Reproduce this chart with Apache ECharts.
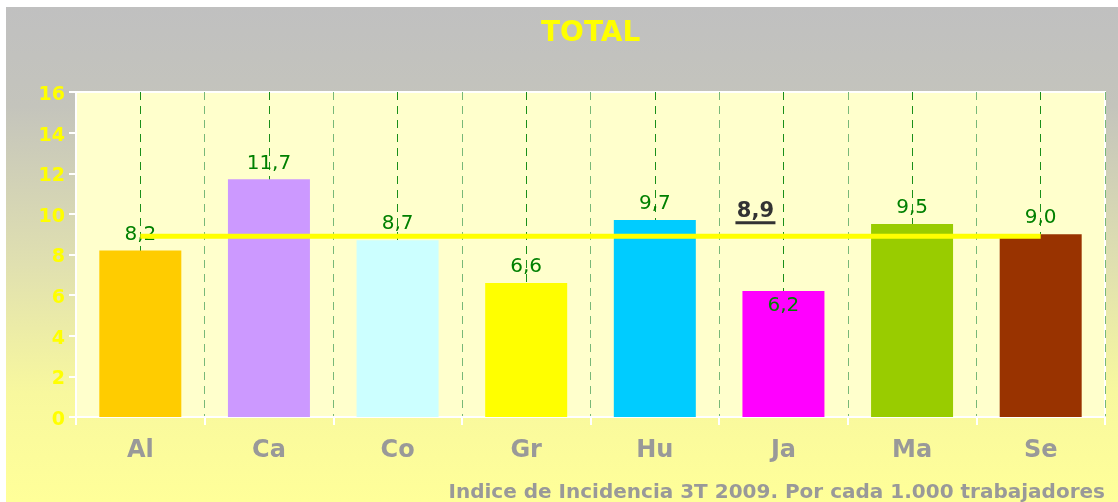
<!DOCTYPE html>
<html><head><meta charset="utf-8">
<script src="https://cdn.jsdelivr.net/npm/echarts@6/dist/echarts.min.js"></script>
<style>
html,body{margin:0;padding:0;background:#fff;width:1118px;height:502px;overflow:hidden}
#c{position:absolute;left:6px;top:7px;width:1112px;height:495px;
background:linear-gradient(to bottom,#c0c0c0 0%,#c4c4bc 20%,#e0e0b0 52%,#f8f89e 78%,#ffff99 100%)}
</style></head><body>
<div id="c"></div>
<script>
const categories = ['Al','Ca','Co','Gr','Hu','Ja','Ma','Se'];
const values = [8.2, 11.7, 8.7, 6.6, 9.7, 6.2, 9.5, 9.0];
const barColors = ['#ffcc00','#cc99ff','#ccffff','#ffff00','#00ccff','#ff00ff','#99cc00','#993300'];
const averageValue = 8.9;
const averageLabelCategory = 'Ja';
const insideLabelCategories = ['Ja'];
const yTicks = {min:0, max:16, interval:2};
const titleText = 'TOTAL';
const footerText = 'Indice de Incidencia 3T 2009. Por cada 1.000 trabajadores';

const fmt = v => v.toFixed(1).replace('.', ',');
const chart = echarts.init(document.getElementById('c'), null, {renderer:'canvas'});
const font = 'DejaVu Sans, Verdana, sans-serif';

const barData = values.map((v,i) => {
  const inside = insideLabelCategories.includes(categories[i]);
  return {
    value: v,
    itemStyle: {color: barColors[i]},
    label: inside ? {position:'insideTop', distance:5} : {position:'top', distance:6}
  };
});
const avgData = categories.map(c => {
  if (c === averageLabelCategory) {
    return {value: averageValue, label: {
      show: true, position: 'top', distance: 12, offset: [-28, 0],
      formatter: '{a|' + fmt(averageValue) + '}\n{u|}',
      rich: {
        a: {fontFamily: font, fontWeight: 'bold', fontSize: 21, color: '#333333', align:'center', lineHeight: 20},
        u: {width: 40, height: 3, backgroundColor: '#333333', align:'center'}
      }
    }};
  }
  return averageValue;
});

chart.setOption({
  animation: false,
  title: [
    {text: titleText, left: 530, top: 8,
     textStyle: {color: '#ffff00', fontFamily: font, fontWeight: 'bold', fontSize: 28}},
    {text: footerText, right: 8, top: 471,
     textStyle: {color: '#999999', fontFamily: font, fontWeight: 'bold', fontSize: 20}}
  ],
  grid: {left: 70, right: 13, top: 85, bottom: 85, show: true,
         backgroundColor: '#ffffcc', borderColor: '#ffffff', borderWidth: 2},
  xAxis: [
    {type: 'category', data: categories,
     axisLine: {lineStyle: {color: '#ffffff', width: 2}},
     axisTick: {show: true, length: 8, lineStyle: {color: '#ffffff', width: 2}},
     axisLabel: {color: '#999999', fontFamily: font, fontWeight: 'bold', fontSize: 24, margin: 22},
     splitLine: {show: true, lineStyle: {color: '#78b878', width: 1, type: [8, 6]}}},
    {type: 'value', min: 0, max: categories.length, interval: 0.5, position: 'bottom',
     axisLine: {show: false}, axisTick: {show: false}, axisLabel: {show: false},
     splitLine: {show: true, lineStyle: {color: ['rgba(0,0,0,0)', '#1a8f1a'], width: 1, type: [8, 6]}}}
  ],
  yAxis: {type: 'value', min: yTicks.min, max: yTicks.max, interval: yTicks.interval,
    axisLine: {show: true, lineStyle: {color: '#ffffff', width: 2}},
    axisTick: {show: true, length: 7, lineStyle: {color: '#ffffff', width: 2}},
    axisLabel: {margin: 11, formatter: '{v|{value}}',
                rich: {v: {color: '#ffff00', fontFamily: font, fontWeight: 'bold', fontSize: 19,
                           padding: [6, 0, 0, 0]}}},
    splitLine: {show: false}},
  series: [
    {type: 'bar', xAxisIndex: 0, data: barData, barWidth: 82, z: 3,
     label: {show: true, color: '#008000', fontFamily: font, fontSize: 20,
             formatter: p => fmt(p.value)}},
    {type: 'line', xAxisIndex: 0, data: avgData, symbol: 'circle', symbolSize: 0.1, showSymbol: true, z: 4,
     itemStyle: {color: '#ffff00'},
     lineStyle: {color: '#ffff00', width: 5}, silent: true}
  ]
});
</script></body></html>
